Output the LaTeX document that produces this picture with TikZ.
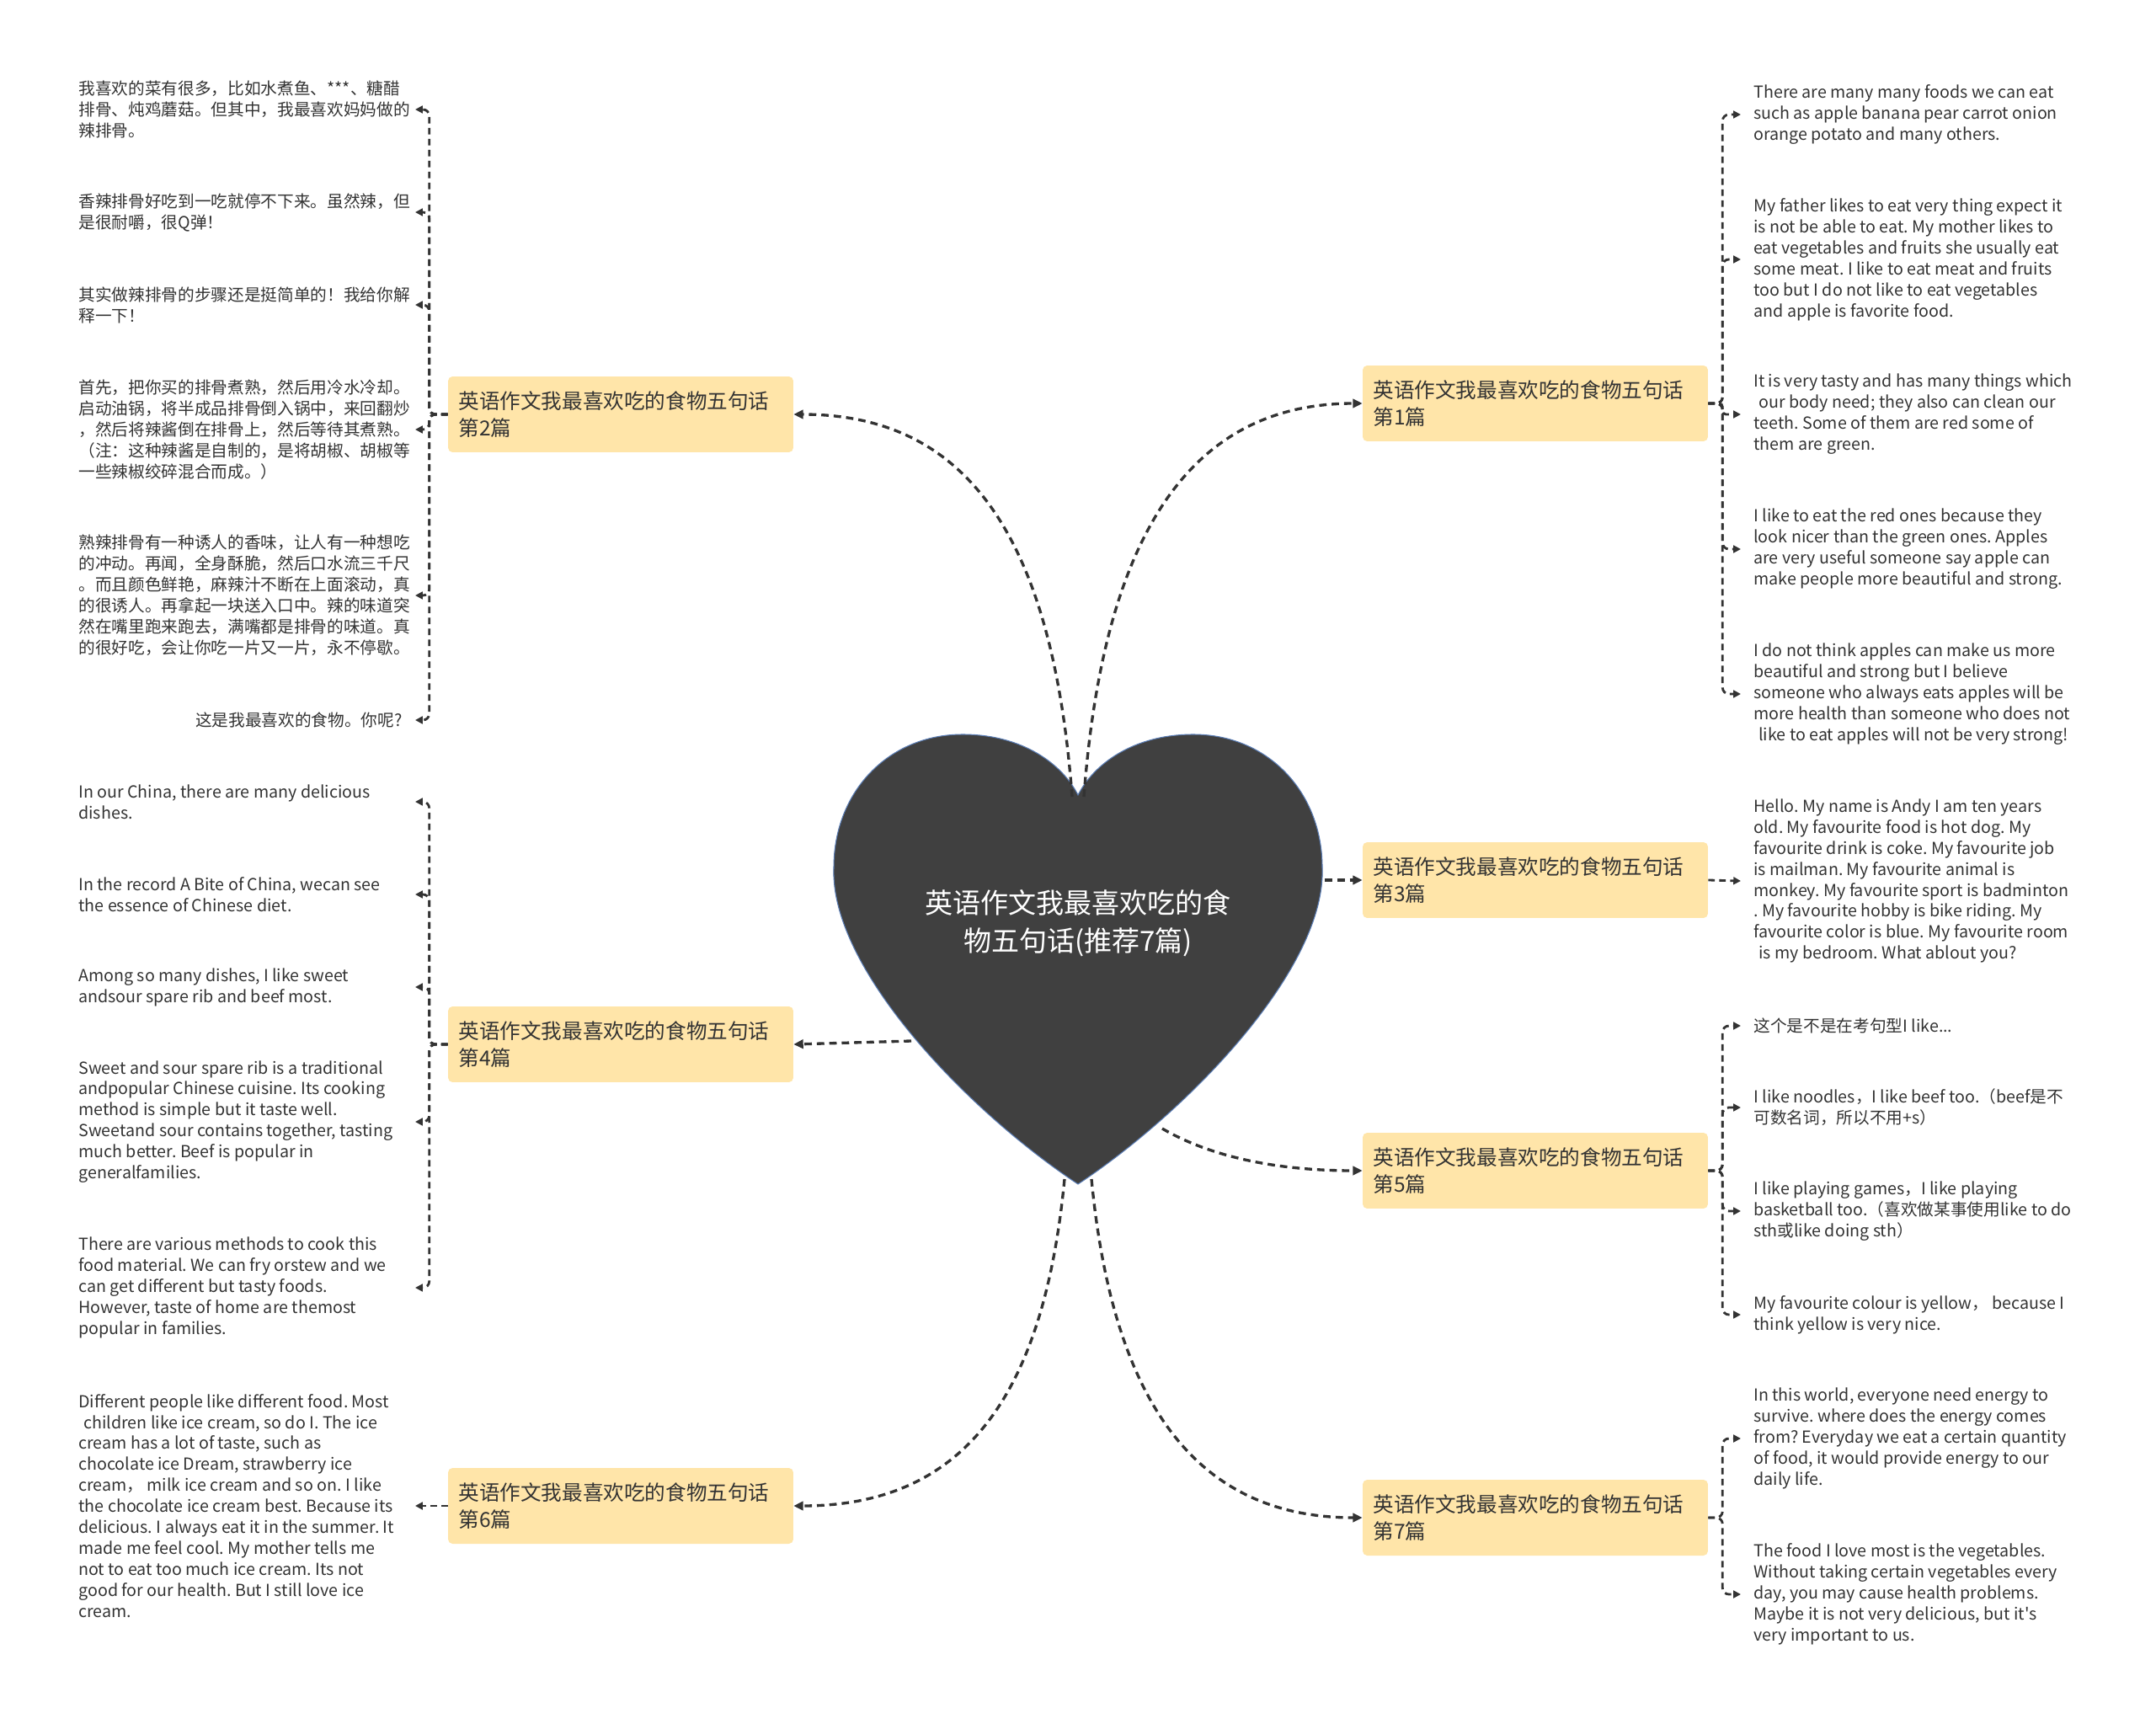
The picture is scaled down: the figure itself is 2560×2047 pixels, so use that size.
\documentclass[tikz,border=0pt]{standalone}
\usepackage{fontspec}
\setmainfont{Noto Sans CJK SC}[Ligatures=TeXOff]
\frenchspacing
\usetikzlibrary{arrows.meta}

\definecolor{boxfill}{HTML}{FFE5A9}
\definecolor{ink}{HTML}{333333}
\definecolor{heartfill}{HTML}{404040}
\definecolor{heartline}{HTML}{5A7DB5}

\tikzset{
  branch/.style={fill=boxfill, rounded corners=3pt, minimum width=8.2cm, minimum height=1.8cm,
    text width=7.7cm, inner xsep=0.25cm, align=left, text=ink, font=\fontsize{14}{18.5}\selectfont},
  core/.style={text=white, align=center, font=\fontsize{18.8}{25.6}\selectfont},
  leafR/.style={anchor=west, inner xsep=0.3cm, inner ysep=0pt, align=left, text=ink,
    font=\fontsize{11.2}{14.2}\selectfont},
  leafS/.style={leafR, anchor=east},
  leafL/.style={leafR},
  spoke/.style={ink, line width=1.9pt, dash pattern=on 5pt off 3.4pt, -{Triangle[length=6.5pt,width=6pt]}},
  link/.style={ink, line width=1.6pt, dash pattern=on 4.4pt off 3pt, rounded corners=0.15cm,
    -{Triangle[length=5pt,width=5pt]}},
}

\begin{document}
\begin{tikzpicture}[x=0.02cm, y=-0.02cm]
  \useasboundingbox (0,0) rectangle (2560,2047);

  \filldraw[fill=heartfill, draw=heartline, line width=0.6pt]
    (1280,1406) .. controls (1150,1320) and (985,1150) .. (990,1030)
    .. controls (990,940) and (1055,872) .. (1143,872)
    .. controls (1215,872) and (1262,908) .. (1280,944)
    .. controls (1298,908) and (1345,872) .. (1417,872)
    .. controls (1505,872) and (1570,940) .. (1570,1030)
    .. controls (1575,1150) and (1410,1320) .. (1280,1406) -- cycle;
  \node[core] (core) at (1280,1096) {英语作文我最喜欢吃的食\\物五句话(推荐7篇)};

  \coordinate (dipL) at (1273,946);
  \coordinate (dipR) at (1287,946);
  \coordinate (sideR) at (1573,1045);
  \coordinate (sideL) at (1082,1236);
  \coordinate (lowR) at (1380,1340);
  \coordinate (tipL) at (1264,1400);
  \coordinate (tipR) at (1296,1400);
  \coordinate (lx) at (493,0);

  \node[branch] (b1) at (1823,479) {英语作文我最喜欢吃的食物五句话\\第1篇};
  \node[branch] (b2) at (737,492) {英语作文我最喜欢吃的食物五句话\\第2篇};
  \node[branch] (b3) at (1823,1045) {英语作文我最喜欢吃的食物五句话\\第3篇};
  \node[branch] (b4) at (737,1240) {英语作文我最喜欢吃的食物五句话\\第4篇};
  \node[branch] (b5) at (1823,1390) {英语作文我最喜欢吃的食物五句话\\第5篇};
  \node[branch] (b6) at (737,1788) {英语作文我最喜欢吃的食物五句话\\第6篇};
  \node[branch] (b7) at (1823,1802) {英语作文我最喜欢吃的食物五句话\\第7篇};

  \draw[spoke] (dipR) .. controls (1310,640) and (1410,479) .. (b1.west);
  \draw[spoke] (dipL) .. controls (1250,640) and (1150,492) .. (b2.east);
  \draw[spoke] (sideR) -- (b3.west);
  \draw[spoke] (sideL) -- (b4.east);
  \draw[spoke] (lowR) .. controls (1440,1375) and (1520,1390) .. (b5.west);
  \draw[spoke] (tipL) .. controls (1240,1650) and (1150,1788) .. (b6.east);
  \draw[spoke] (tipR) .. controls (1320,1650) and (1410,1802) .. (b7.west);

  \node[leafL] (l21) at (78,130) {我喜欢的菜有很多，比如水煮鱼、***、糖醋\\排骨、炖鸡蘑菇。但其中，我最喜欢妈妈做的\\辣排骨。};
  \node[leafL] (l22) at (78,252) {香辣排骨好吃到一吃就停不下来。虽然辣，但\\是很耐嚼，很Q弹！};
  \node[leafL] (l23) at (78,362) {其实做辣排骨的步骤还是挺简单的！我给你解\\释一下！};
  \node[leafL] (l24) at (78,510) {首先，把你买的排骨煮熟，然后用冷水冷却。\\启动油锅，将半成品排骨倒入锅中，来回翻炒\\，然后将辣酱倒在排骨上，然后等待其煮熟。\\（注：这种辣酱是自制的，是将胡椒、胡椒等\\一些辣椒绞碎混合而成。）};
  \node[leafL] (l25) at (78,707) {熟辣排骨有一种诱人的香味，让人有一种想吃\\的冲动。再闻，全身酥脆，然后口水流三千尺\\。而且颜色鲜艳，麻辣汁不断在上面滚动，真\\的很诱人。再拿起一块送入口中。辣的味道突\\然在嘴里跑来跑去，满嘴都是排骨的味道。真\\的很好吃，会让你吃一片又一片，永不停歇。};
  \node[leafS] (l26) at (493,855) {这是我最喜欢的食物。你呢?};

  \node[leafL] (l41) at (78,952) {In our China, there are many delicious\\dishes.};
  \node[leafL] (l42) at (78,1062) {In the record A Bite of China, wecan see\\the essence of Chinese diet.};
  \node[leafL] (l43) at (78,1172) {Among so many dishes, I like sweet\\andsour spare rib and beef most.};
  \node[leafL] (l44) at (78,1332) {Sweet and sour spare rib is a traditional\\andpopular Chinese cuisine. Its cooking\\method is simple but it taste well.\\Sweetand sour contains together, tasting\\much better. Beef is popular in\\generalfamilies.};
  \node[leafL] (l45) at (78,1529) {There are various methods to cook this\\food material. We can fry orstew and we\\can get different but tasty foods.\\However, taste of home are themost\\popular in families.};

  \node[leafL] (l61) at (78,1788) {Different people like different food. Most\\\hspace*{0.3em}children like ice cream, so do I. The ice\\cream has a lot of taste, such as\\chocolate ice Dream, strawberry ice\\cream， milk ice cream and so on. I like\\the chocolate ice cream best. Because its\\delicious. I always eat it in the summer. It\\made me feel cool. My mother tells me\\not to eat too much ice cream. Its not\\good for our health. But I still love ice\\cream.};

  \node[leafR] (r11) at (2067,136) {There are many many foods we can eat\\such as apple banana pear carrot onion\\orange potato and many others.};
  \node[leafR] (r12) at (2067,308) {My father likes to eat very thing expect it\\is not be able to eat. My mother likes to\\eat vegetables and fruits she usually eat\\some meat. I like to eat meat and fruits\\too but I do not like to eat vegetables\\and apple is favorite food.};
  \node[leafR] (r13) at (2067,492) {It is very tasty and has many things which\\\hspace*{0.3em}our body need; they also can clean our\\teeth. Some of them are red some of\\them are green.};
  \node[leafR] (r14) at (2067,652) {I like to eat the red ones because they\\look nicer than the green ones. Apples\\are very useful someone say apple can\\make people more beautiful and strong.};
  \node[leafR] (r15) at (2067,824) {I do not think apples can make us more\\beautiful and strong but I believe\\someone who always eats apples will be\\more health than someone who does not\\\hspace*{0.3em}like to eat apples will not be very strong!};

  \node[leafR] (r31) at (2067,1046) {Hello. My name is Andy I am ten years\\old. My favourite food is hot dog. My\\favourite drink is coke. My favourite job\\is mailman. My favourite animal is\\monkey. My favourite sport is badminton\\. My favourite hobby is bike riding. My\\favourite color is blue. My favourite room\\\hspace*{0.3em}is my bedroom. What ablout you?};

  \node[leafR] (r51) at (2067,1218) {这个是不是在考句型I like...};
  \node[leafR] (r52) at (2067,1315) {I like noodles，I like beef too.（beef是不\\可数名词，所以不用+s）};
  \node[leafR] (r53) at (2067,1438) {I like playing games，I like playing\\basketball too.（喜欢做某事使用like to do\\sth或like doing sth）};
  \node[leafR] (r54) at (2067,1561) {My favourite colour is yellow， because I\\think yellow is very nice.};

  \node[leafR] (r71) at (2067,1708) {In this world, everyone need energy to\\survive. where does the energy comes\\from? Everyday we eat a certain quantity\\of food, it would provide energy to our\\daily life.};
  \node[leafR] (r72) at (2067,1893) {The food I love most is the vegetables.\\Without taking certain vegetables every\\day, you may cause health problems.\\Maybe it is not very delicious, but it's\\very important to us.};

  \foreach \leaf in {l21,l22,l23,l24,l25}
    \draw[link] (b2.west) -- ++(-22,0) |- (\leaf.east -| lx);
  \draw[link] (b2.west) -- ++(-22,0) |- (l26.east);
  \foreach \leaf in {l41,l42,l43,l44,l45}
    \draw[link] (b4.west) -- ++(-22,0) |- (\leaf.east -| lx);
  \draw[link] (b6.west) -- (l61.east -| lx);

  \foreach \leaf in {r11,r12,r14,r15}
    \draw[link] (b1.east) -- ++(17,0) |- (\leaf.west);
  \draw[link, rounded corners=0.08cm] (b1.east) -- ++(17,0) |- (r13.west);
  \draw[link] (b3.east) -- (r31.west);
  \foreach \leaf in {r51,r52,r53,r54}
    \draw[link] (b5.east) -- ++(17,0) |- (\leaf.west);
  \foreach \leaf in {r71,r72}
    \draw[link] (b7.east) -- ++(17,0) |- (\leaf.west);
\end{tikzpicture}
\end{document}
